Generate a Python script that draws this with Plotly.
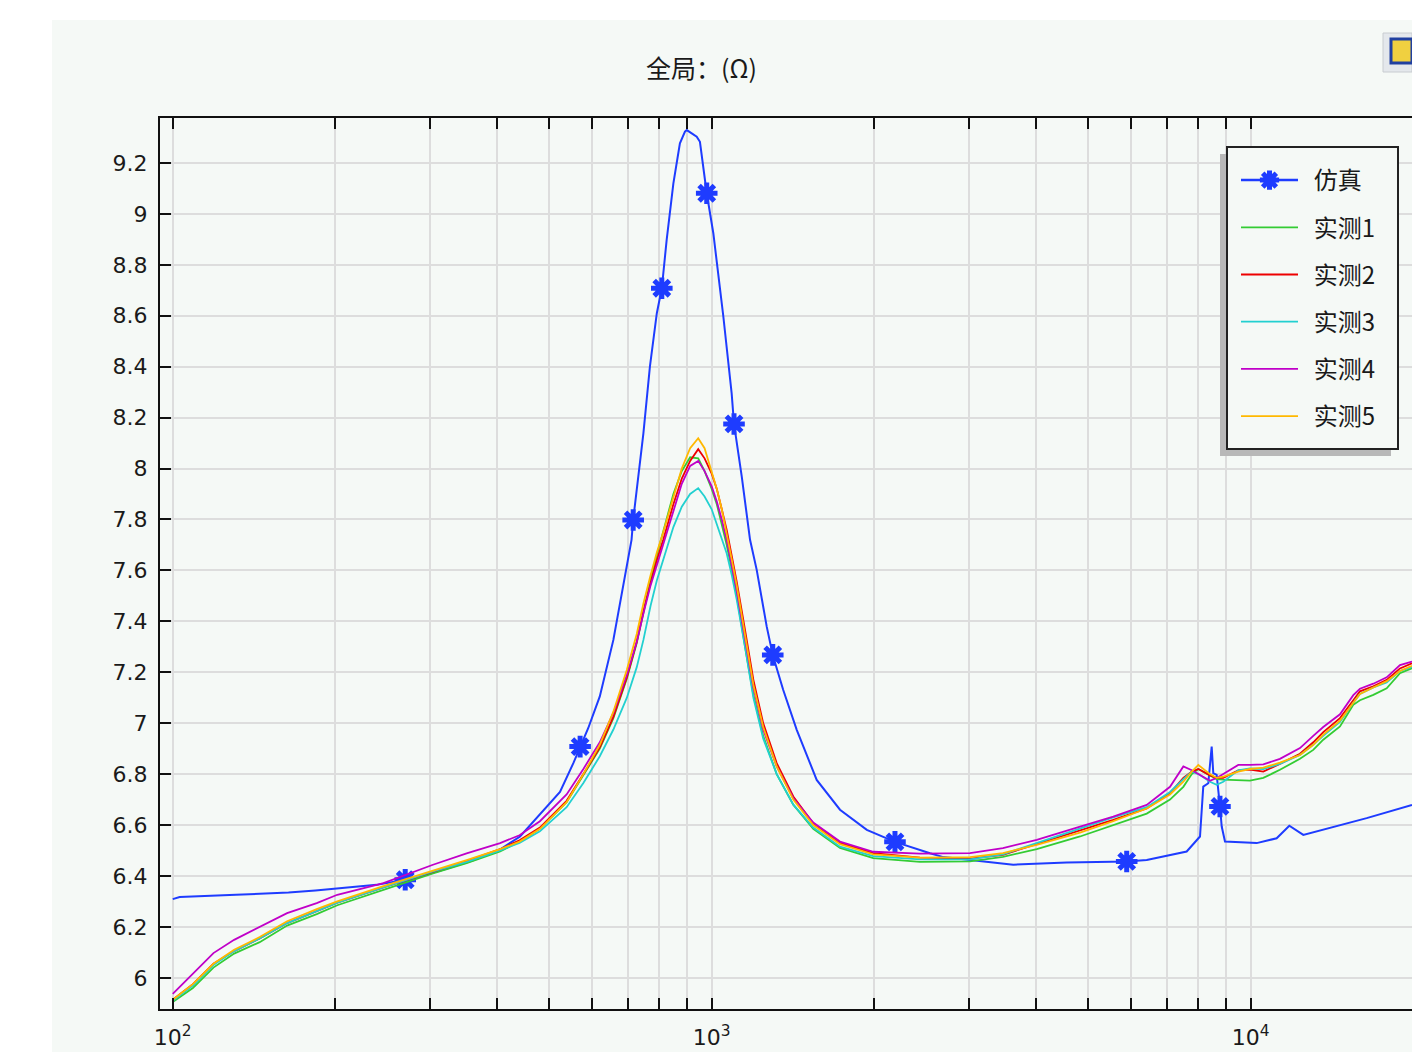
import plotly.graph_objects as go

# ---------------- data ----------------
freq = [100, 109, 119, 130, 145, 163, 185, 202, 246, 304, 351, 405, 440, 480, 538, 578, 620, 657, 696, 726,
        747, 770, 791, 813, 849, 880, 912, 944, 970, 1000, 1022, 1044, 1066, 1090, 1113, 1153, 1195, 1246,
        1320, 1417, 1543, 1730, 1994, 2435, 3015, 3470, 4009, 4824, 5560, 6414, 7085, 7500, 7776, 7996,
        8404, 8648, 8896, 9484, 9970, 10554, 11331, 12344, 13065, 13635, 14645, 15502, 15950, 16887, 17880,
        18923, 19920]

meas1 = [5.905, 5.96, 6.04, 6.095, 6.14, 6.205, 6.25, 6.285, 6.345, 6.41, 6.45, 6.496, 6.535, 6.585, 6.69,
         6.795, 6.90, 7.02, 7.175, 7.315, 7.44, 7.56, 7.66, 7.75, 7.90, 7.99, 8.044, 8.04, 7.99, 7.92, 7.86,
         7.78, 7.70, 7.60, 7.50, 7.30, 7.11, 6.95, 6.80, 6.68, 6.585, 6.51, 6.47, 6.455, 6.457, 6.475, 6.505,
         6.555, 6.60, 6.645, 6.70, 6.75, 6.80, 6.82, 6.795, 6.78, 6.778, 6.776, 6.774, 6.785, 6.817, 6.86,
         6.895, 6.935, 6.987, 7.072, 7.09, 7.111, 7.137, 7.196, 7.216]

meas2 = [5.914, 5.975, 6.055, 6.105, 6.155, 6.215, 6.262, 6.295, 6.355, 6.415, 6.458, 6.505, 6.54, 6.59,
         6.695, 6.80, 6.905, 7.025, 7.18, 7.32, 7.44, 7.55, 7.64, 7.72, 7.86, 7.96, 8.03, 8.076, 8.04, 7.98,
         7.92, 7.84, 7.76, 7.655, 7.555, 7.366, 7.17, 7.0, 6.843, 6.712, 6.607, 6.53, 6.49, 6.472, 6.468,
         6.483, 6.525, 6.58, 6.62, 6.665, 6.725, 6.785, 6.81, 6.82, 6.795, 6.785, 6.785, 6.815, 6.818, 6.81,
         6.84, 6.88, 6.925, 6.965, 7.02, 7.09, 7.125, 7.145, 7.17, 7.215, 7.235]

meas3 = [5.91, 5.97, 6.05, 6.105, 6.155, 6.215, 6.262, 6.295, 6.355, 6.418, 6.455, 6.50, 6.53, 6.575, 6.67,
         6.765, 6.87, 6.975, 7.10, 7.22, 7.327, 7.46, 7.56, 7.645, 7.77, 7.85, 7.90, 7.923, 7.89, 7.84, 7.78,
         7.72, 7.667, 7.58, 7.484, 7.30, 7.10, 6.94, 6.80, 6.68, 6.59, 6.515, 6.478, 6.465, 6.465, 6.485,
         6.53, 6.585, 6.63, 6.67, 6.73, 6.78, 6.81, 6.80, 6.77, 6.758, 6.77, 6.815, 6.822, 6.82, 6.84, 6.875,
         6.915, 6.95, 7.005, 7.08, 7.115, 7.14, 7.16, 7.205, 7.22]

meas4 = [5.937, 6.018, 6.097, 6.149, 6.199, 6.254, 6.293, 6.326, 6.372, 6.444, 6.489, 6.529, 6.56, 6.615,
         6.72, 6.82, 6.925, 7.04, 7.19, 7.32, 7.43, 7.54, 7.62, 7.70, 7.83, 7.94, 8.01, 8.03, 7.99, 7.93,
         7.87, 7.80, 7.72, 7.62, 7.52, 7.33, 7.14, 6.975, 6.83, 6.705, 6.61, 6.535, 6.495, 6.488, 6.49,
         6.509, 6.542, 6.594, 6.633, 6.679, 6.75, 6.83, 6.815, 6.80, 6.774, 6.785, 6.80, 6.836, 6.836, 6.838,
         6.86, 6.902, 6.95, 6.985, 7.035, 7.11, 7.135, 7.155, 7.18, 7.228, 7.242]

meas5 = [5.914, 5.975, 6.055, 6.11, 6.16, 6.222, 6.27, 6.30, 6.36, 6.42, 6.462, 6.505, 6.535, 6.585, 6.69,
         6.80, 6.915, 7.045, 7.21, 7.35, 7.47, 7.58, 7.67, 7.75, 7.89, 8.00, 8.08, 8.119, 8.08, 7.99, 7.92,
         7.84, 7.75, 7.64, 7.54, 7.35, 7.15, 6.985, 6.83, 6.70, 6.60, 6.525, 6.485, 6.472, 6.474, 6.49,
         6.522, 6.57, 6.615, 6.665, 6.72, 6.77, 6.81, 6.836, 6.80, 6.785, 6.79, 6.81, 6.82, 6.825, 6.845,
         6.875, 6.915, 6.955, 7.01, 7.08, 7.115, 7.14, 7.165, 7.205, 7.225]

sim_freq = [100, 103, 131, 164, 184, 206, 239, 270, 313, 360, 402, 441, 480, 523, 554, 570, 590, 620, 657,
            710, 715, 747, 768, 791, 808, 825, 849, 873, 892, 899, 938, 951, 965, 979, 1007, 1051, 1089,
            1100, 1137, 1161, 1178, 1212, 1265, 1298, 1357, 1438, 1566, 1730, 1940, 2188, 2366, 2541, 2690,
            3147, 3626, 4557, 5888, 6414, 7186, 7608, 8053, 8166, 8343, 8465, 8523, 8648, 8770, 8836, 8960,
            10259, 11173, 11794, 12521, 14229, 16413, 19920]
sim_val = [6.309, 6.317, 6.326, 6.335, 6.343, 6.352, 6.365, 6.385, 6.42, 6.46, 6.50, 6.555, 6.64, 6.73,
           6.844, 6.908, 6.98, 7.105, 7.327, 7.72, 7.798, 8.139, 8.40, 8.61, 8.708, 8.898, 9.12, 9.277,
           9.323, 9.329, 9.303, 9.283, 9.185, 9.081, 8.924, 8.597, 8.295, 8.175, 7.968, 7.824, 7.72, 7.602,
           7.379, 7.268, 7.131, 6.974, 6.777, 6.66, 6.581, 6.534, 6.509, 6.489, 6.474, 6.457, 6.444, 6.453,
           6.457, 6.463, 6.483, 6.496, 6.555, 6.751, 6.764, 6.908, 6.804, 6.797, 6.673, 6.594, 6.535, 6.529,
           6.548, 6.597, 6.561, 6.592, 6.627, 6.679]
marker_freq = [270, 570, 715, 808, 979, 1100, 1298, 2188, 5888, 8770]

sim_name = "仿真"
series_names = ["实测1", "实测2", "实测3", "实测4", "实测5"]
series_vals = [meas1, meas2, meas3, meas4, meas5]
series_colors = ["#33cc33", "#ee0000", "#22d0d0", "#c000c8", "#ffb800"]

x_tickvals = [100, 200, 300, 400, 500, 600, 700, 800, 900,
              1000, 2000, 3000, 4000, 5000, 6000, 7000, 8000, 9000, 10000]
x_ticktext = ["10<sup>2</sup>", "", "", "", "", "", "", "", "",
              "10<sup>3</sup>", "", "", "", "", "", "", "", "", "10<sup>4</sup>"]

title_text = "全局：(Ω)"

# ---------------- figure ----------------
BG = "#f5f9f6"
SIM_COLOR = "#1e3cff"
PAD = "\u00a0\u00a0"
fig = go.Figure()

fig.add_trace(go.Scatter(x=sim_freq, y=sim_val, mode="lines",
                         line=dict(color=SIM_COLOR, width=2),
                         showlegend=False, legendgroup="sim", hoverinfo="skip"))

mx, my = [], []
for f, v in zip(sim_freq, sim_val):
    if f in marker_freq:
        mx += [f, None]
        my += [v, None]
fig.add_trace(go.Scatter(x=mx, y=my, mode="lines+markers", name=PAD + sim_name, legendgroup="sim",
                         connectgaps=False,
                         line=dict(color=SIM_COLOR, width=2.5),
                         marker=dict(symbol="asterisk-open", size=18, color=SIM_COLOR,
                                     line=dict(color=SIM_COLOR, width=5))))

for name, vals, col in zip(series_names, series_vals, series_colors):
    fig.add_trace(go.Scatter(x=freq, y=vals, mode="lines", name=PAD + name, legendgroup=name,
                             line=dict(color=col, width=1.8)))

# plot area: x 160..1412, y 118..1009 px
W, H = 1412, 1052
L, R, T, B = 160, 0, 118, 43
pw, ph = W - L - R, H - T - B


def px(x):
    return (x - L) / pw


def py(y):
    return (H - B - y) / ph


fig.add_shape(type="rect", xref="paper", yref="paper", x0=px(52), x1=px(1412), y0=py(1052), y1=py(20),
              fillcolor=BG, line=dict(width=0), layer="below")
# cropped toolbar icon in the top-right corner
fig.add_shape(type="rect", xref="paper", yref="paper", x0=px(1383), x1=px(1412), y0=py(72), y1=py(33),
              fillcolor="#e4e8ec", line=dict(width=1, color="#c8ccd0"), layer="above")
fig.add_shape(type="rect", xref="paper", yref="paper", x0=px(1391), x1=px(1412), y0=py(63), y1=py(39),
              fillcolor="#f0d040", line=dict(width=3, color="#2040a0"), layer="above")
# legend shadow and frame
fig.add_shape(type="rect", xref="paper", yref="paper", x0=px(1220), x1=px(1391), y0=py(456), y1=py(154),
              fillcolor="#b8b8b8", line=dict(width=0), layer="above")
fig.add_shape(type="rect", xref="paper", yref="paper", x0=px(1227), x1=px(1398), y0=py(449), y1=py(147),
              fillcolor=BG, line=dict(width=2, color="#222222"), layer="above")

fig.add_annotation(text=title_text, xref="paper", yref="paper", x=px(701), y=py(67),
                   showarrow=False, xanchor="center", yanchor="middle",
                   font=dict(family="Noto Sans CJK SC", size=25, color="#1a1a1a"))

axis_font = dict(family="DejaVu Sans", size=22, color="#1a1a1a")
fig.update_xaxes(type="log", range=[1.9764, 4.2993], tickvals=x_tickvals, ticktext=x_ticktext,
                 ticks="inside", ticklen=11, tickwidth=2, tickcolor="#111111",
                 showline=True, linewidth=2, linecolor="#111111", mirror="ticks",
                 showgrid=True, gridcolor="#dddddd", gridwidth=1.5, zeroline=False,
                 tickfont=axis_font, ticklabelstandoff=8)
fig.update_yaxes(range=[5.8775, 9.3765], tick0=6, dtick=0.2,
                 ticks="inside", ticklen=11, tickwidth=2, tickcolor="#111111",
                 showline=True, linewidth=2, linecolor="#111111", mirror=False,
                 showgrid=True, gridcolor="#dddddd", gridwidth=1.5, zeroline=False,
                 tickfont=axis_font, ticklabelstandoff=6)

fig.update_layout(
    width=W, height=H, margin=dict(l=L, r=R, t=T, b=B, pad=0),
    paper_bgcolor="white", plot_bgcolor=BG,
    showlegend=True,
    legend=dict(x=px(1236), y=py(158), xanchor="left", yanchor="top",
                bgcolor="rgba(0,0,0,0)", borderwidth=0,
                font=dict(family="Noto Sans CJK SC", size=24, color="#1a1a1a"),
                itemwidth=57, traceorder="grouped", tracegroupgap=13),
)

fig.write_html("out.html", config={"displayModeBar": False},
               post_script="document.body.style.margin='0px';")
